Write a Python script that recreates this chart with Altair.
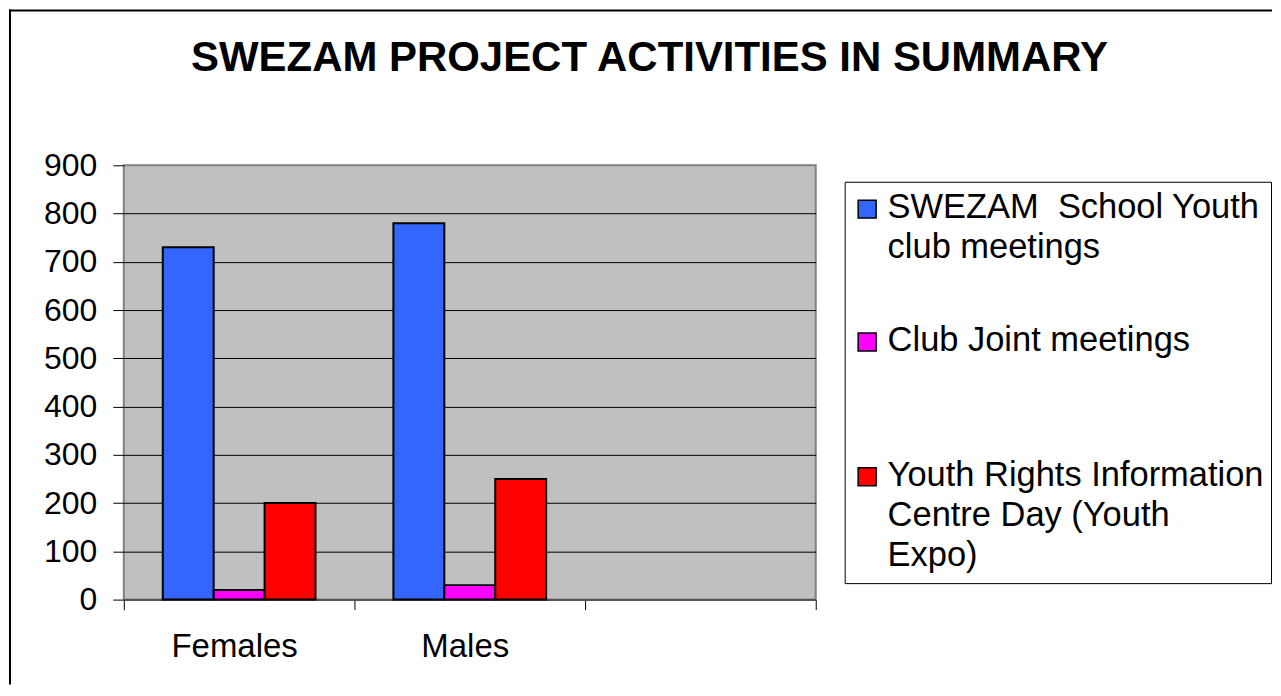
import altair as alt
import pandas as pd

# ---------------- data ----------------
TITLE = "SWEZAM PROJECT ACTIVITIES IN SUMMARY"
categories = ["Females", "Males"]
series = [
    "SWEZAM  School Youth club meetings",
    "Club Joint meetings",
    "Youth Rights Information Centre Day (Youth Expo)",
]
school_club_meetings = [730, 780]
club_joint_meetings = [20, 30]
youth_expo = [200, 250]
colors = ["#3366FF", "#FF00FF", "#FF0000"]
legend_lines = [
    ["SWEZAM\u00a0 School Youth", "club meetings"],
    ["Club Joint meetings"],
    ["Youth Rights Information", "Centre Day (Youth", "Expo)"],
]
y_ticks = [0, 100, 200, 300, 400, 500, 600, 700, 800, 900]

# ---------------- layout constants ----------------
FONT = "Liberation Sans"
PLOT_W, PLOT_H = 693, 435
LEG_W, LEG_H = 427, 402
LINE_H = 40.0
entry_tops = [0.66, 3.99, 7.36]  # first-line position of each legend entry, in line units

rows = []
for s, vals in zip(series, [school_club_meetings, club_joint_meetings, youth_expo]):
    for c, v in zip(categories, vals):
        rows.append({"category": c, "series": s, "value": v})
df = pd.DataFrame(rows)

x_domain = categories + [" "]
color_scale = alt.Scale(domain=series, range=colors)

bars = alt.Chart(df).mark_bar(stroke="black", strokeWidth=2, opacity=1).encode(
    x=alt.X(
        "category:N",
        sort=x_domain,
        scale=alt.Scale(domain=x_domain, paddingInner=0, paddingOuter=0),
        axis=alt.Axis(
            title=None, labelAngle=0, labelFont=FONT, labelFontSize=33,
            labelColor="black", tickBand="extent", tickSize=10, tickColor="black",
            tickWidth=1, labelPadding=21, labelOffset=-5, domainColor="#555555",
            domainWidth=2, grid=False,
        ),
    ),
    xOffset=alt.XOffset(
        "series:N", sort=series,
        scale=alt.Scale(domain=series, paddingInner=0, paddingOuter=0.765),
    ),
    y=alt.Y(
        "value:Q",
        scale=alt.Scale(domain=[0, 900], nice=False, zero=True),
        axis=alt.Axis(
            title=None, values=y_ticks, labelFont=FONT, labelFontSize=32,
            labelColor="black", tickSize=11, tickColor="black", tickWidth=1,
            labelPadding=16, domain=False, grid=True, gridColor="black", gridWidth=1,
            gridOpacity={"condition": {"test": "datum.value == 900 || datum.value == 0", "value": 0}, "value": 1},
        ),
    ),
    color=alt.Color("series:N", scale=color_scale, legend=None),
)

one = alt.Data(values=[{"k": 0}])
frame_top = alt.Chart(one).mark_rect(color="black").encode(
    x=alt.value(-115), x2=alt.value(1150), y=alt.value(-156), y2=alt.value(-154)
)
frame_left = alt.Chart(one).mark_rect(color="black").encode(
    x=alt.value(-115), x2=alt.value(-113), y=alt.value(-156), y2=alt.value(520)
)

plot = alt.layer(frame_top, frame_left, bars).properties(
    width=PLOT_W,
    height=PLOT_H,
    view=alt.ViewBackground(fill="#C0C0C0", stroke="#808080", strokeWidth=2),
    title=alt.Title(
        TITLE, font=FONT, fontSize=42, fontWeight="bold", color="black",
        anchor="middle", frame="group", dx=180, offset=66, dy=137,
    ),
)

# ---------------- legend panel ----------------
leg_rows = []
for s, lines, top in zip(series, legend_lines, entry_tops):
    for i, t in enumerate(lines):
        leg_rows.append({"series": s, "text": t, "slot": top + i, "first": i == 0})
leg_df = pd.DataFrame(leg_rows)

leg_y = alt.Scale(domain=[0, LEG_H / LINE_H], reverse=True, nice=False, zero=False)

leg_text = alt.Chart(leg_df).mark_text(
    align="left", baseline="middle", font=FONT, fontSize=34.5, color="black"
).encode(
    x=alt.value(43),
    y=alt.Y("slot:Q", scale=leg_y, axis=None),
    text="text:N",
)
leg_sym = alt.Chart(leg_df).transform_filter("datum.first").mark_square(
    size=324, filled=True, stroke="black", strokeWidth=1.5, opacity=1, yOffset=1
).encode(
    x=alt.value(22.5),
    y=alt.Y("slot:Q", scale=leg_y, axis=None),
    color=alt.Color("series:N", scale=color_scale, legend=None),
)

legend = alt.layer(leg_sym, leg_text).properties(
    width=LEG_W,
    height=LEG_H,
    view=alt.ViewBackground(fill="white", stroke="black", strokeWidth=1),
)

chart = alt.hconcat(plot, legend, spacing=29, bounds="flush", center=True).properties(
    padding=0, background="white"
)

chart.save("out.html", embed_options={"renderer": "svg", "actions": False})
